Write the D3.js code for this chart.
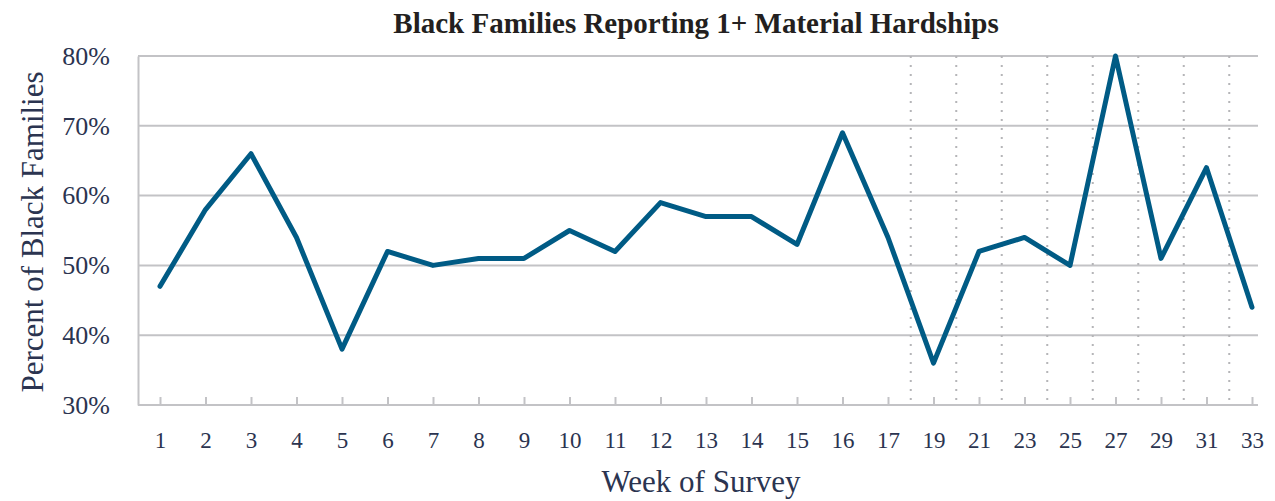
<!DOCTYPE html>
<html>
<head>
<meta charset="utf-8">
<script src="https://cdn.jsdelivr.net/npm/d3@7"></script>
<style>
  body { margin: 0; background: #fff; }
  text { font-family: "Liberation Serif", "DejaVu Serif", serif; }
</style>
</head>
<body>
<div id="chart"></div>
<script>
// week labels and share of black families reporting 1+ material hardships
let weeks = ["1","2","3","4","5","6","7","8","9","10","11","12","13","14","15","16","17","19","21","23","25","27","29","31","33"]
let hardship = [47, 58, 66, 54, 38, 52, 50, 51, 51, 55, 52, 59, 57, 57, 53, 69, 54, 36, 52, 54, 50, 80, 51, 64, 44]
let yTicks = [30, 40, 50, 60, 70, 80]
// the biweekly weeks get dotted separators between them
let dottedFrom = "17"

var W = 1275, H = 501
var pLeft = 138, pRight = 1258, pTop = 56, pBottom = 405

let svg = d3.select("#chart")
    .append("svg")
    .attr("width", W)
    .attr("height", H)

var x = d3.scalePoint()
    .domain(weeks)
    .range([160, 1252])

var y = d3.scaleLinear()
    .domain([30, 80])
    .range([pBottom, pTop])

// horizontal grid
svg.append("g")
    .selectAll("line")
    .data(yTicks.slice(1))
    .enter()
    .append("line")
    .attr("x1", pLeft)
    .attr("x2", pRight)
    .attr("y1", d => y(d))
    .attr("y2", d => y(d))
    .attr("stroke", "#c3c3c6")
    .attr("stroke-width", 2)

// dotted separators for the later weeks
let step = x.step()
let sepWeeks = weeks.slice(weeks.indexOf(dottedFrom), weeks.length - 1)
svg.append("g")
    .selectAll("line")
    .data(sepWeeks)
    .enter()
    .append("line")
    .attr("x1", d => x(d) + step / 2)
    .attr("x2", d => x(d) + step / 2)
    .attr("y1", pTop)
    .attr("y2", pBottom)
    .attr("stroke", "#b5b5b8")
    .attr("stroke-width", 2)
    .attr("stroke-dasharray", "2,7")

// y axis
var yAxis = svg.append("g")
    .attr("transform", "translate(" + pLeft + ",0)")
    .call(d3.axisLeft(y).tickValues(yTicks).tickSize(0).tickPadding(28).tickFormat(d => d + "%"))
yAxis.select(".domain").attr("stroke", "#c3c3c6").attr("stroke-width", 2)
yAxis.selectAll("text")
    .attr("fill", "#2b3450")
    .style("font-size", "26px")

// x axis (ticks point into the plot)
var xAxis = svg.append("g")
    .attr("transform", "translate(0," + pBottom + ")")
    .call(d3.axisBottom(x).tickSizeInner(-8).tickSizeOuter(0).tickPadding(27))
xAxis.select(".domain")
    .attr("d", "M" + pLeft + ",0H" + pRight)
    .attr("stroke", "#c3c3c6")
    .attr("stroke-width", 2)
xAxis.selectAll(".tick line").attr("stroke", "#c3c3c6").attr("stroke-width", 2)
xAxis.selectAll("text")
    .attr("fill", "#2b3450")
    .style("font-size", "23px")

// series line
var line = d3.line()
    .x((d, i) => x(weeks[i]))
    .y(d => y(d))

svg.append("path")
    .datum(hardship)
    .attr("d", line)
    .attr("fill", "none")
    .attr("stroke", "#005b85")
    .attr("stroke-width", 5)
    .attr("stroke-linejoin", "round")
    .attr("stroke-linecap", "round")

// title
svg.append("text")
    .attr("x", 696)
    .attr("y", 33)
    .attr("text-anchor", "middle")
    .attr("fill", "#231f20")
    .style("font-size", "29px")
    .style("font-weight", "bold")
    .text("Black Families Reporting 1+ Material Hardships")

// axis titles
svg.append("text")
    .attr("transform", "rotate(-90)")
    .attr("x", -232)
    .attr("y", 43)
    .attr("text-anchor", "middle")
    .attr("fill", "#2b3450")
    .style("font-size", "31px")
    .text("Percent of Black Families")

svg.append("text")
    .attr("x", 701)
    .attr("y", 492)
    .attr("text-anchor", "middle")
    .attr("fill", "#2b3450")
    .style("font-size", "31px")
    .text("Week of Survey")
</script>
</body>
</html>
